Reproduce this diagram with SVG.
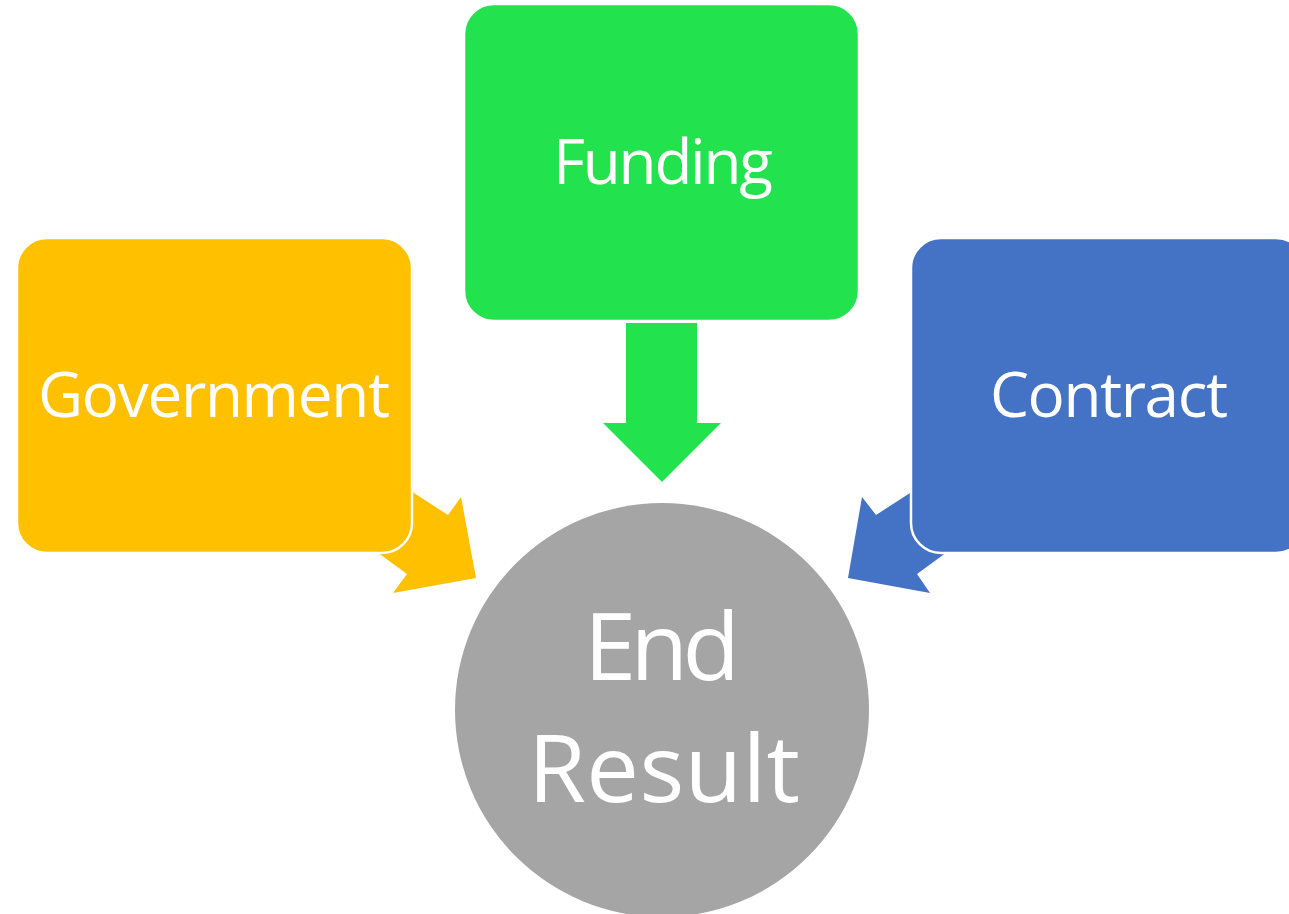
<svg xmlns="http://www.w3.org/2000/svg" width="1289" height="914" viewBox="0 0 1289 914">
<style>
.box{stroke:#fff;stroke-width:2.5}
.lbl{font-family:"Open Sans","Liberation Sans",sans-serif;fill:#fff;text-anchor:middle;font-size:62px}
.big{font-size:94px}
</style>
<rect width="1289" height="914" fill="#fff"/>
<g id="connectors">
<polygon fill="#FFC000" points="380,470 414,493 448,515 461,497 476,578 393,593 407,574 381,555 350,534"/>
<polygon fill="#4472C4" points="944,470 910,493 876,515 862,497 848,578 930,593 917,574 943,555 974,534"/>
<polygon fill="#22E34D" points="626,323 697,323 697,423 721,423 662,482 603,423 626,423"/>
</g>
<g id="government">
<rect class="box" x="17" y="238" width="395" height="315" rx="30" fill="#FFC000"/>
<text class="lbl" x="214" y="417" textLength="352">Government</text>
</g>
<g id="funding">
<rect class="box" x="464" y="4" width="395" height="317" rx="30" fill="#22E34D"/>
<text class="lbl" x="663" y="184" textLength="220">Funding</text>
</g>
<g id="contract">
<rect class="box" x="911" y="238" width="395" height="315" rx="30" fill="#4472C4"/>
<text class="lbl" x="1109" y="417" textLength="238">Contract</text>
</g>
<g id="end-result">
<circle cx="662" cy="710" r="207" fill="#A5A5A5"/>
<text class="lbl big" x="662" y="680" textLength="156">End</text>
<text class="lbl big" x="664" y="802" textLength="272">Result</text>
</g>
</svg>
